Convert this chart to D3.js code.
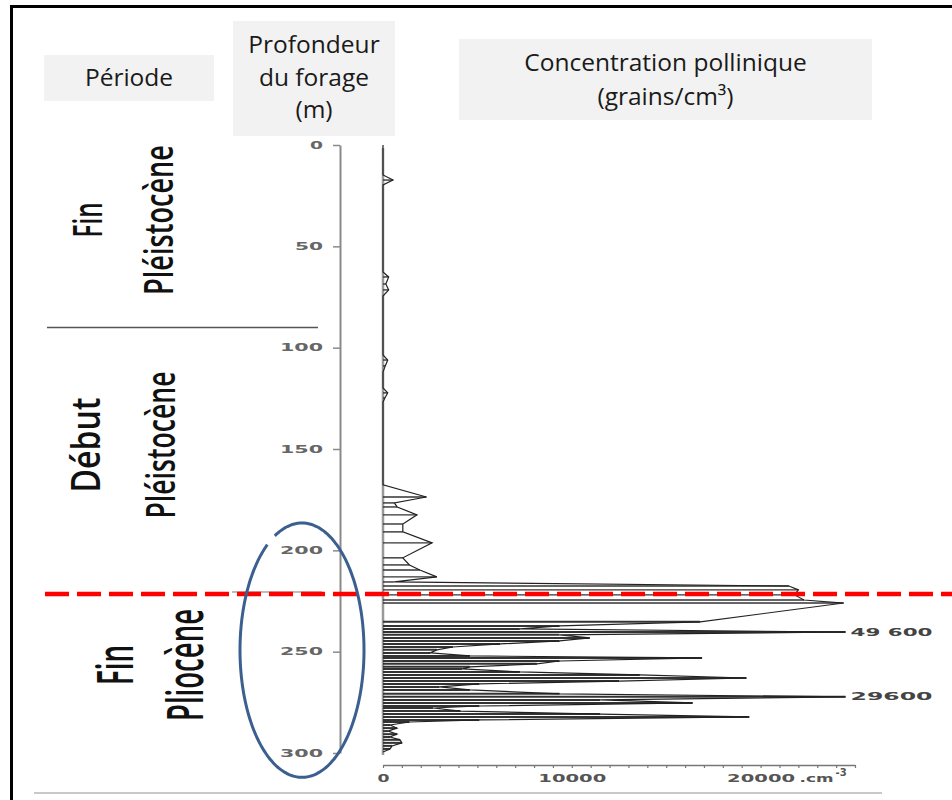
<!DOCTYPE html>
<html>
<head>
<meta charset="utf-8">
<script src="https://cdn.jsdelivr.net/npm/d3@7"></script>
<style>
body { margin: 0; background: #fff; }
svg { display: block; }
</style>
</head>
<body>
<svg id="chart" width="952" height="800"></svg>
<script>
var depths = [0, 14.8, 17.3, 19.7, 62.7, 65.1, 68.6, 71.5, 74.5, 103.6, 106.1, 109, 112,
	119.9, 122.3, 124.8, 126.8, 167.7, 173.7, 176.6, 178.6, 182.5, 187, 190.9, 196.3,
	203.7, 207.2, 209.7, 213.1, 215.6, 217.6, 219.5, 222, 224.5, 226, 235.3, 237.3,
	238.8, 240.3, 241.7, 243.2, 244.7, 246.2, 247.7, 249.1, 250.6, 252.1, 253.1, 254.6,
	256, 257.5, 258.5, 260, 261.5, 263, 264.5, 265.9, 267.4, 268.9, 270.8, 272.3, 273.8,
	275.3, 276.8, 277.8, 279.3, 280.8, 282.2, 283.7, 284.7, 286.2, 287.7, 289.2, 290.7,
	292.1, 293.5, 295, 296.5, 298, 299.5];
var pollen = [0, 0, 530, 0, 0, 300, 150, 300, 0, 0, 250, 120, 0,
	0, 250, 100, 0, 0, 2300, 600, 750, 1800, 1050, 1050, 2600,
	1050, 1400, 1950, 2850, 600, 21500, 22000, 21800, 22300, 24400, 16800, 9350,
	7250, 49600, 9350, 10950, 9350, 6200, 3700, 2850, 2500, 4600, 16900, 9350,
	8150, 4600, 4200, 7250, 13600, 19250, 12500, 5100, 3000, 4600, 9350, 29600, 11500,
	16400, 5100, 2650, 4100, 11500, 19400, 5100, 1400, 370, 740, 260, 740,
	370, 900, 1000, 480, 370, 0];

var depthTicks = [0, 50, 100, 150, 200, 250, 300];
var concTicks = [0, 10000, 20000];
var concUnit = ".cm";
var concUnitExp = "-3";

// values beyond the axis are cut and written next to the peak
var peakLabels = ["49 600", "29600"];
var peakValues = [49600, 29600];

var periodFirst = ["Fin", "Début", "Fin"];
var periodSecond = ["Pléistocène", "Pléistocène", "Pliocène"];
var boundaries = [90, 221.5];
var circledDepths = [186.5, 312];

var headerPeriode = ["Période"];
var headerDepth = ["Profondeur", "du forage", "(m)"];
var headerConc = ["Concentration pollinique", "(grains/cm³)"];

var svg = d3.select("#chart");

var clipMax = 24500;
var y = d3.scaleLinear().domain([0, 300]).range([145, 753]);
var x = d3.scaleLinear().domain([0, 25000]).range([383, 855]);

function cut(v) { return Math.min(v, clipMax); }

// frame
svg.append("line").attr("x1", 11.5).attr("x2", 11.5).attr("y1", 5).attr("y2", 800)
	.attr("stroke", "#000").attr("stroke-width", 3);
svg.append("line").attr("x1", 10).attr("x2", 952).attr("y1", 6.5).attr("y2", 6.5)
	.attr("stroke", "#000").attr("stroke-width", 3);
svg.append("line").attr("x1", 34).attr("x2", 882).attr("y1", 793).attr("y2", 793)
	.attr("stroke", "#c8c8c8").attr("stroke-width", 2);

// headers
function header(lines, bx, by, bw, bh, first, step) {
	svg.append("rect").attr("x", bx).attr("y", by).attr("width", bw).attr("height", bh)
		.attr("fill", "#f2f2f2");
	svg.selectAll(null).data(lines).enter()
		.append("text")
		.attr("x", bx + bw / 2)
		.attr("y", function(d, i) { return first + i * step; })
		.attr("text-anchor", "middle")
		.attr("font-family", "'Open Sans', sans-serif")
		.attr("font-size", 24.5)
		.attr("fill", "#1a1a1a")
		.text(function(d) { return d; });
}
header(headerPeriode, 44, 55, 170, 46, 86, 0);
header(headerDepth, 233, 21, 162, 115, 53, 32.5);
header(headerConc, 459, 39, 413, 81, 71, 34);

// period names, rotated
var periodPos = [
	{cy: 220, b1: 102, b2: 173, l1: 35, l2: 150, fs: 40},
	{cy: 445, b1: 100, b2: 175, l1: 95, l2: 147, fs: 40},
	{cy: 665, b1: 133, b2: 203, l1: 40, l2: 112, fs: 50}
];
periodPos.forEach(function(p, i) {
	[[periodFirst[i], p.b1, p.l1], [periodSecond[i], p.b2, p.l2]].forEach(function(t) {
		svg.append("text")
			.attr("transform", "translate(" + t[1] + "," + p.cy + ") rotate(-90)")
			.attr("text-anchor", "middle")
			.attr("font-family", "'Open Sans', sans-serif")
			.attr("font-weight", 600)
			.attr("font-size", p.fs)
			.attr("fill", "#111")
			.attr("textLength", t[2])
			.attr("lengthAdjust", "spacingAndGlyphs")
			.text(t[0]);
	});
});

// boundary between late and early Pleistocene
svg.append("line")
	.attr("x1", 47).attr("x2", 318)
	.attr("y1", y(boundaries[0])).attr("y2", y(boundaries[0]))
	.attr("stroke", "#555").attr("stroke-width", 1.5);

// depth axis
var depthAxis = d3.axisLeft(y).tickValues(depthTicks).tickSize(7).tickSizeOuter(0).tickPadding(10);
var gd = svg.append("g").attr("transform", "translate(340,0)").call(depthAxis);
gd.select(".domain").attr("stroke", "#8a8a8a").attr("stroke-width", 2);
gd.selectAll(".tick line").attr("stroke", "#8a8a8a").attr("stroke-width", 1.5);
gd.selectAll(".tick text")
	.attr("font-family", "'DejaVu Sans', sans-serif")
	.attr("font-weight", "bold")
	.attr("font-size", 10)
	.attr("fill", "#666")
	.attr("textLength", function(d) { return String(d).length * 15 - 2; })
	.attr("lengthAdjust", "spacingAndGlyphs");

// concentration axis
var concAxis = d3.axisBottom(x)
	.tickValues(d3.range(0, 25001, 1000))
	.tickSize(3).tickSizeOuter(0).tickPadding(6)
	.tickFormat(function(d) { return concTicks.indexOf(d) >= 0 ? d : ""; });
var gc = svg.append("g").attr("transform", "translate(0,765)").call(concAxis);
gc.select(".domain").attr("stroke", "#777").attr("stroke-width", 1.5);
gc.selectAll(".tick line").attr("stroke", "#777").attr("stroke-width", 1.2);
gc.selectAll(".tick text")
	.attr("font-family", "'DejaVu Sans', sans-serif")
	.attr("font-weight", "bold")
	.attr("font-size", 11)
	.attr("fill", "#555")
	.attr("textLength", function(d) { return String(d).length * 14 - 2; })
	.attr("lengthAdjust", "spacingAndGlyphs");

var lastTick = concTicks[concTicks.length - 1];
var unit = svg.append("text")
	.attr("x", x(lastTick) + String(lastTick).length * 7 + 4)
	.attr("y", 782)
	.attr("font-family", "'DejaVu Sans', sans-serif")
	.attr("font-weight", "bold")
	.attr("font-size", 11)
	.attr("fill", "#555");
unit.append("tspan").attr("textLength", 34).attr("lengthAdjust", "spacingAndGlyphs").text(concUnit);
unit.append("tspan").attr("dy", -6).attr("font-size", 10).attr("dx", 2).text(concUnitExp);

// zero line of the curve
svg.append("line")
	.attr("x1", x(0)).attr("x2", x(0))
	.attr("y1", y(0) + 3).attr("y2", y(300) + 2)
	.attr("stroke", "#999").attr("stroke-width", 2.5);

// the pollen curve : one line per sample plus the outline
var samples = depths.map(function(d, i) { return {depth: d, value: pollen[i]}; });

svg.selectAll(".sample").data(samples.filter(function(d) { return d.value > 0; })).enter()
	.append("line")
	.attr("class", "sample")
	.attr("x1", x(0))
	.attr("x2", function(d) { return x(cut(d.value)); })
	.attr("y1", function(d) { return y(d.depth); })
	.attr("y2", function(d) { return y(d.depth); })
	.attr("stroke", "#333")
	.attr("stroke-width", function(d) { return d.depth > 230 ? 2 : 1.4; });

var outline = d3.line()
	.x(function(d) { return x(cut(d.value)); })
	.y(function(d) { return y(d.depth); });

svg.append("path")
	.datum(samples)
	.attr("d", outline)
	.attr("fill", "none")
	.attr("stroke", "#222")
	.attr("stroke-width", 1.2);

// labels of the cut peaks
svg.selectAll(".peak").data(peakValues).enter()
	.append("text")
	.attr("class", "peak")
	.attr("x", x(clipMax) + 5)
	.attr("y", function(v) { return y(depths[pollen.indexOf(v)]); })
	.attr("dy", "0.35em")
	.attr("font-family", "'DejaVu Sans', sans-serif")
	.attr("font-weight", "bold")
	.attr("font-size", 10)
	.attr("fill", "#444")
	.attr("textLength", 82)
	.attr("lengthAdjust", "spacingAndGlyphs")
	.text(function(v, i) { return peakLabels[i]; });

// Pleistocene / Pliocene limit
svg.append("line")
	.attr("x1", 232).attr("x2", 322)
	.attr("y1", y(boundaries[1]) - 2).attr("y2", y(boundaries[1]) - 2)
	.attr("stroke", "#bbb").attr("stroke-width", 2);
svg.append("line")
	.attr("x1", 45).attr("x2", 952)
	.attr("y1", y(boundaries[1])).attr("y2", y(boundaries[1]))
	.attr("stroke", "#ff0000").attr("stroke-width", 4.5)
	.attr("stroke-dasharray", "24,8");

// circled depths
var cy = (y(circledDepths[0]) + y(circledDepths[1])) / 2;
var ry = (y(circledDepths[1]) - y(circledDepths[0])) / 2;
var rx = 62, cx = 302;
var angles = d3.range(244, 236 + 360.1, 2).map(function(a) { return a * Math.PI / 180; });
svg.append("path")
	.datum(angles)
	.attr("d", d3.line()
		.x(function(t) { return cx + rx * Math.cos(t); })
		.y(function(t) { return cy + ry * Math.sin(t); })
		.curve(d3.curveCardinal))
	.attr("fill", "none")
	.attr("stroke", "#3b5f8f")
	.attr("stroke-width", 3);
</script>
</body>
</html>
